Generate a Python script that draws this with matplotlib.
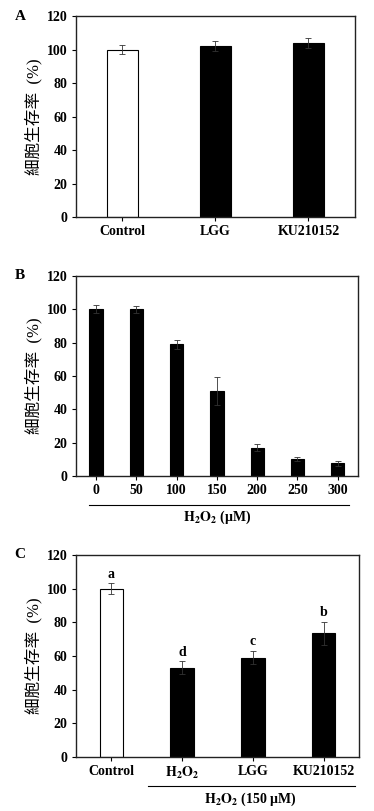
import numpy as np
import matplotlib.pyplot as plt
from matplotlib.lines import Line2D

plt.rcParams['font.family'] = ['Liberation Serif', 'DejaVu Serif']
plt.rcParams['font.weight'] = 'bold'
plt.rcParams['mathtext.fontset'] = 'stix'

# panel A
a_labels = ['Control', 'LGG', 'KU210152']
a_vals = [100, 102, 104]
a_err = [2.5, 3, 3]
a_colors = ['white', 'black', 'black']

# panel B
b_labels = ['0', '50', '100', '150', '200', '250', '300']
b_vals = [100, 100, 79, 51, 17, 10, 7.5]
b_err = [2.5, 2, 2.8, 8.2, 2.2, 1.2, 1.4]

# panel C
c_labels = ['Control', r'$\mathbf{H_2O_2}$', 'LGG', 'KU210152']
c_vals = [100, 53, 59, 73.5]
c_err = [3.2, 4, 4, 6.7]
c_letters = ['a', 'd', 'c', 'b']
c_colors = ['white', 'black', 'black', 'black']

ylab = '細胞生存率  (%)'
yfam = ['Liberation Serif', 'Noto Sans CJK TC']
fs = 10

fig = plt.figure(figsize=(3.74, 8.11), dpi=100)
axA = fig.add_axes([0.203, 0.7324, 0.746, 0.2478])
axB = fig.add_axes([0.203, 0.4131, 0.754, 0.2466])
axC = fig.add_axes([0.203, 0.0666, 0.757, 0.2491])


def style(ax, n, labels):
    ax.set_xlim(-0.5, n - 0.5)
    ax.set_ylim(0, 120)
    ax.set_yticks(range(0, 121, 20))
    ax.set_xticks(range(n))
    ax.set_xticklabels(labels)
    ax.tick_params(axis='both', direction='out', length=3, width=0.8,
                   labelsize=fs, pad=3)
    for lab in ax.get_xticklabels() + ax.get_yticklabels():
        lab.set_fontweight('bold')
    for s in ax.spines.values():
        s.set_linewidth(1.0)
        s.set_color('#222222')
    ax.set_ylabel(ylab, family=yfam, fontsize=12, fontweight='normal', labelpad=3)


def panel_letter(ax, t):
    ax.text(-0.2, 1.0, t, transform=ax.transAxes, fontsize=11, fontweight='bold',
            va='center', ha='center')


ekw = dict(ecolor='#333333', elinewidth=0.6, capsize=2, capthick=0.6)

x = np.arange(len(a_labels))
axA.bar(x, a_vals, width=0.33, color=a_colors, edgecolor='black', linewidth=0.8,
        yerr=a_err, error_kw=ekw)
style(axA, len(a_labels), a_labels)
panel_letter(axA, 'A')

x = np.arange(len(b_labels))
axB.bar(x, b_vals, width=0.33, color='black', edgecolor='black', linewidth=0.8,
        yerr=b_err, error_kw=ekw)
style(axB, len(b_labels), b_labels)
panel_letter(axB, 'B')
axB.add_line(Line2D([0.046, 0.968], [-0.145, -0.145], transform=axB.transAxes,
                    color='black', linewidth=0.8, clip_on=False))
axB.text(0.5, -0.205, r'$\mathbf{H_2O_2}$ (μM)', transform=axB.transAxes,
         fontsize=fs, fontweight='bold', ha='center', va='center')

x = np.arange(len(c_labels))
axC.bar(x, c_vals, width=0.33, color=c_colors, edgecolor='black', linewidth=0.8,
        yerr=c_err, error_kw=ekw)
style(axC, len(c_labels), c_labels)
for xi, v, e, t in zip(x, c_vals, c_err, c_letters):
    axC.text(xi, v + e + 1.5, t, ha='center', va='bottom', fontsize=fs, fontweight='bold')
panel_letter(axC, 'C')
axC.add_line(Line2D([0.254, 0.986], [-0.144, -0.144], transform=axC.transAxes,
                    color='black', linewidth=0.8, clip_on=False))
axC.text(0.615, -0.208, r'$\mathbf{H_2O_2}$ (150 μM)', transform=axC.transAxes,
         fontsize=fs, fontweight='bold', ha='center', va='center')

fig.savefig('out.png', dpi=100)
